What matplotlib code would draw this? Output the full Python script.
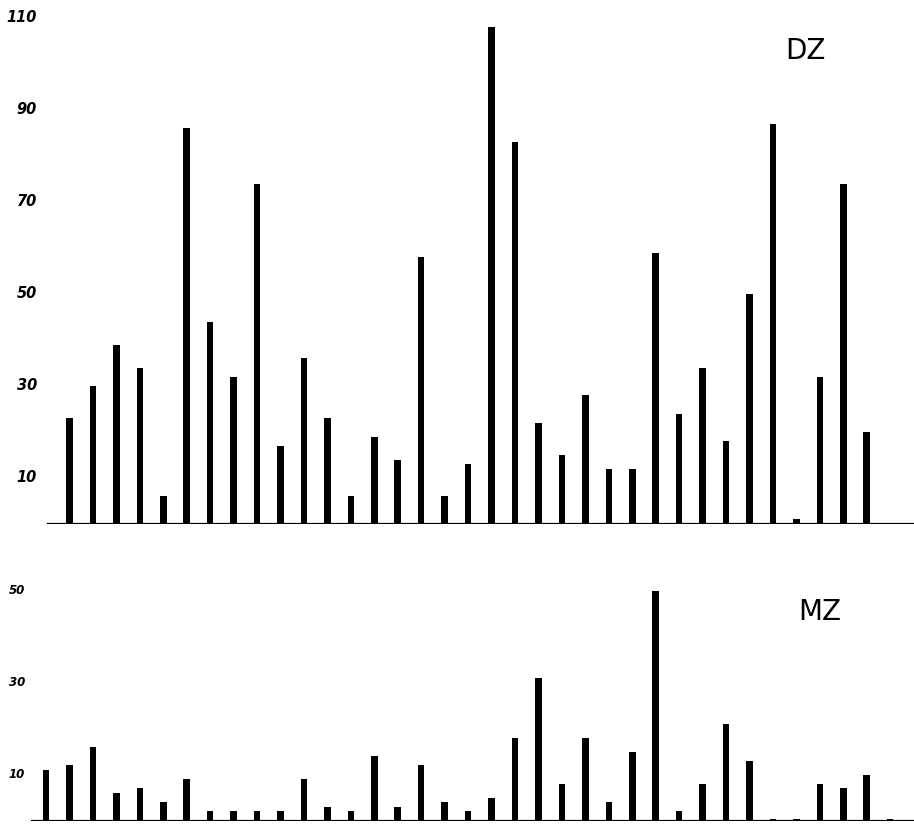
import numpy as np
import matplotlib.pyplot as plt

# bar values per position (0..36)
dz_values = [0, 23, 30, 39, 34, 6, 86, 44, 32, 74, 17, 36, 23, 6, 19, 14, 58, 6,
             13, 108, 83, 22, 15, 28, 12, 12, 59, 24, 34, 18, 50, 87, 1, 32, 74, 20, 0]
mz_values = [11, 12, 16, 6, 7, 4, 9, 2, 2, 2, 2, 9, 3, 2, 14, 3, 12, 4, 2, 5,
             18, 31, 8, 18, 4, 15, 50, 2, 8, 21, 13, 0.4, 0.4, 8, 7, 10, 0.4]
dz_ticks = [10, 30, 50, 70, 90, 110]
mz_ticks = [10, 30, 50]

positions = np.arange(len(dz_values))

W, H = 914, 825
fig = plt.figure(figsize=(W / 100, H / 100), dpi=100)

# both panels share the same units-per-pixel (about 4.6 px per unit)
px_per_unit = 4.6
px_per_pos = 23.45
x0 = 46  # pixel of position 0
xlim = (-x0 / px_per_pos, (W - x0) / px_per_pos)


def make_panel(top_px, base_px, values, ticks, label, label_xy, tick_size, line_start):
    ax = fig.add_axes([0, 1 - base_px / H, 1, (base_px - top_px) / H])
    ax.set_xlim(*xlim)
    ax.set_ylim(0, (base_px - top_px) / px_per_unit)
    ax.bar(positions, values, width=0.28, color="black", edgecolor="none")
    ax.axhline(0, xmin=line_start / W, xmax=1, color="black", lw=1.6)
    for s in ax.spines.values():
        s.set_visible(False)
    ax.set_xticks([])
    ax.set_yticks([])
    for t in ticks:
        ax.text(xlim[0] + (37 if tick_size > 9.5 else 25) / px_per_pos, t, str(t),
                ha="right", va="center", fontsize=tick_size,
                fontweight="bold", style="italic")
    ax.text(label_xy[0], label_xy[1], label, fontsize=20,
            ha="center", va="center", transform=None)
    return ax


# label positions given in display pixels (origin bottom-left)
make_panel(5, 524, dz_values, dz_ticks, "DZ", (805, H - 51), 10.5, 48)
make_panel(560, 820.5, mz_values, mz_ticks, "MZ", (820, H - 612), 8.5, 32)

fig.savefig("out.png", dpi=100, facecolor="white")
